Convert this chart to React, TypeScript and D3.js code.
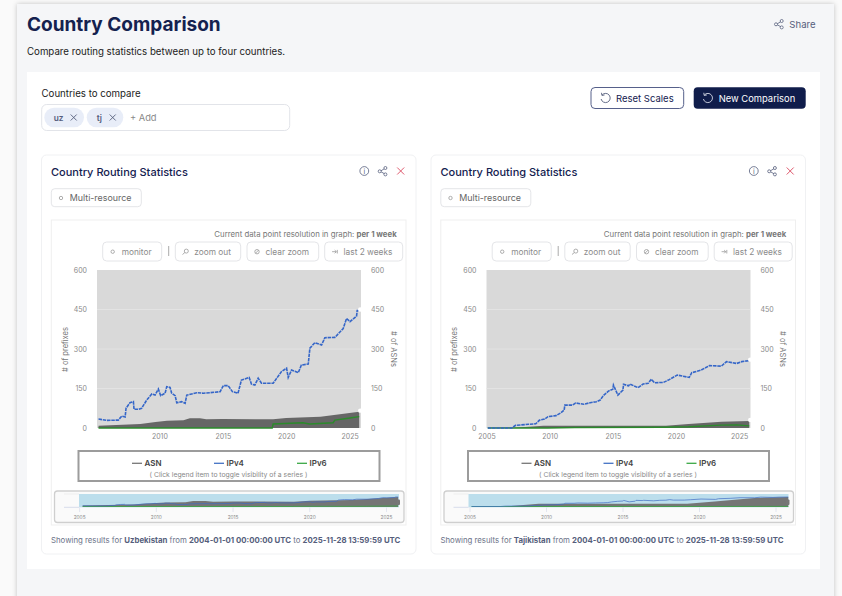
import React, { useEffect, useRef } from 'react';
import * as d3 from 'd3';

const FONT = 'Inter, "Noto Sans", sans-serif';
const NAVY = '#14214f';
const SLATE = '#555e7c';
const TICK = '#8a8a8a';

const yTicks = [0, 150, 300, 450, 600];
const xTicks = [2005, 2010, 2015, 2020, 2025];

// uzbekistan, years as decimals
const uzV4Years = [2005.2, 2005.84, 2006.76, 2007.03, 2007.3, 2007.37, 2007.68, 2007.95, 2008, 2008.34, 2008.6, 2009, 2009.4, 2009.66, 2009.92, 2010.1, 2010.45, 2010.58, 2010.84, 2010.97, 2011.24, 2011.37, 2011.76, 2012.03, 2012.16, 2012.95, 2013.47, 2014, 2014.79, 2015.05, 2015.42, 2015.76, 2016.2, 2016.47, 2017.08, 2017.26, 2017.53, 2017.79, 2018.05, 2018.97, 2019.63, 2020.03, 2020.16, 2020.42, 2020.95, 2021.2, 2021.74, 2021.87, 2022.26, 2022.79, 2023.05, 2023.84, 2024.5, 2024.76, 2025.03, 2025.55, 2025.6, 2025.76];
const uzV4 = [34, 29, 30, 45, 42, 75, 96, 100, 71, 71, 75, 106, 129, 125, 148, 123, 132, 157, 154, 132, 123, 96, 100, 94, 125, 134, 132, 134, 138, 161, 161, 138, 132, 182, 192, 167, 163, 189, 170, 170, 214, 227, 192, 220, 210, 239, 243, 303, 324, 315, 343, 344, 378, 416, 404, 425, 446, 446];
const uzAsnYears = [2005.2, 2008.5, 2009.7, 2010.6, 2011.9, 2012.4, 2013.2, 2013.7, 2015, 2018.97, 2020, 2022.7, 2025.76];
const uzAsn = [9, 15, 23, 28, 29, 37, 37, 33, 34, 33, 38, 43, 62];
const uzV6Years = [2005.2, 2018.9, 2018.97, 2021.3, 2021.85, 2023.7, 2023.84, 2025.03, 2025.76];
const uzV6 = [0, 0, 15, 20, 15, 20, 30, 38, 43];

// tajikistan
const tjV4Years = [2005.1, 2007, 2007.3, 2008.3, 2008.9, 2009.2, 2009.6, 2009.87, 2010.5, 2010.9, 2011.15, 2011.2, 2011.8, 2012.05, 2012.7, 2013.2, 2013.7, 2014, 2014.25, 2014.65, 2015, 2015.05, 2015.4, 2015.8, 2015.85, 2016.25, 2016.35, 2017, 2017.4, 2017.8, 2018.05, 2018.3, 2019, 2019.4, 2020.1, 2021.05, 2021.25, 2022, 2022.65, 2023.6, 2024, 2024.8, 2025.2, 2025.8];
const tjV4 = [0, 0, 10, 14, 16, 30, 34, 43, 47, 58, 68, 87, 87, 95, 90, 96, 100, 106, 123, 140, 147, 163, 125, 144, 166, 160, 167, 153, 167, 170, 185, 172, 173, 182, 201, 192, 210, 220, 237, 235, 252, 245, 252, 256];
const tjAsnYears = [2005.1, 2007.2, 2009.5, 2015, 2019.2, 2021, 2023.6, 2025.8];
const tjAsn = [0, 1, 9, 9, 9, 15, 24, 27];
const tjV6Years = [2005.1, 2009.8, 2012, 2019, 2021, 2023.6, 2024.8, 2025.8];
const tjV6 = [0, 0, 2, 3, 5, 11, 12, 8];

type Row = { t: number; v: number };
const rows = (ts: number[], vs: number[]): Row[] => ts.map((t, i) => ({ t, v: vs[i] }));

const Share = ({ x, y, c = SLATE }: { x: number; y: number; c?: string }) => (
  <g transform={`translate(${x},${y})`} fill="#fff" stroke={c} strokeWidth={0.8}>
    <path d="M-2.5 0.3L2.2 -2.6M-2.5 0.3L2.2 3" fill="none" />
    <circle cx={-3} cy={0.3} r={1.5} />
    <circle cx={2.7} cy={-3} r={1.5} />
    <circle cx={2.7} cy={3.4} r={1.5} />
  </g>
);

const Cross = ({ x, y, r = 3.5, c = SLATE }: { x: number; y: number; r?: number; c?: string }) => (
  <path d={`M${x - r} ${y - r}L${x + r} ${y + r}M${x + r} ${y - r}L${x - r} ${y + r}`} stroke={c} strokeWidth={0.9} fill="none" />
);

const Undo = ({ x, y, c }: { x: number; y: number; c: string }) => (
  <g transform={`translate(${x},${y})`} fill="none" stroke={c} strokeWidth={0.9}>
    <path d="M-3.6 -3A4.6 4.6 0 1 1 -4.6 1" />
    <path d="M-4.2 -5.2L-3.8 -2.6L-1.2 -3" />
  </g>
);

// small button glyphs above the plot
const glyphs: Record<string, string> = {
  monitor: 'M-1.7 0a1.7 1.7 0 1 0 3.4 0a1.7 1.7 0 1 0 -3.4 0',
  zoom: 'M-1 -0.6a2 2 0 1 0 4 0a2 2 0 1 0 -4 0M-0.4 0.8L-2.8 2.8',
  clear: 'M-2.2 0a2.2 2.2 0 1 0 4.4 0a2.2 2.2 0 1 0 -4.4 0M-1.5 1.5L1.5 -1.5',
  last: 'M-2.6 0H1.6M0 -1.6L1.6 0L0 1.6M2.6 -1.8V1.8',
};

const Pill = ({ x, x2, label, tx, glyph }: { x: number; x2: number; label: string; tx: number; glyph: string }) => (
  <g>
    <rect x={x} y={242} width={x2 - x} height={19} rx={4} fill="#fff" stroke="#e4e5e8" />
    <path d={glyphs[glyph]} transform={`translate(${x + 10},251.7)`} fill="none" stroke="#999" strokeWidth={0.8} />
    <text x={tx} y={254.8} fontSize={8.3} fill="#8b8b8b">{label}</text>
  </g>
);

function Axes({ x, y, left, right, bottom }: any) {
  const bottomRef = useRef<SVGGElement>(null);
  const leftRef = useRef<SVGGElement>(null);
  const rightRef = useRef<SVGGElement>(null);
  useEffect(() => {
    const style = (g: any) => {
      g.select('.domain').remove();
      g.selectAll('line').remove();
      g.selectAll('text').attr('fill', TICK).attr('font-size', 7).attr('font-family', FONT);
    };
    d3.select(bottomRef.current!)
      .call(d3.axisBottom(x).tickValues(xTicks.filter(t => x(t) >= x.range()[0])).tickFormat(d3.format('d')).tickSize(0).tickPadding(6) as any)
      .call(style);
    d3.select(leftRef.current!)
      .call(d3.axisLeft(y).tickValues(yTicks).tickSize(0).tickPadding(10) as any)
      .call(style);
    d3.select(rightRef.current!)
      .call(d3.axisRight(y).tickValues(yTicks).tickSize(0).tickPadding(10) as any)
      .call(style);
  }, []);
  return (
    <g>
      <g ref={bottomRef} transform={`translate(0,${bottom})`} />
      <g ref={leftRef} transform={`translate(${left},0)`} />
      <g ref={rightRef} transform={`translate(${right},0)`} />
    </g>
  );
}

function Chart({ dx, country, end, v4, asn, v6, navStart, plotStart }: any) {
  const left = 97;
  const right = 361;
  const top = 270;
  const bottom = 428;
  const x = d3.scaleLinear().domain([plotStart, 2025.9]).range([left, right]);
  const y = d3.scaleLinear().domain([0, 600]).range([bottom, top]);
  const line = d3.line<Row>().x(d => x(d.t)).y(d => y(d.v));
  const area = d3.area<Row>().x(d => x(d.t)).y0(y(0)).y1(d => y(d.v));

  // overview strip below the legend, each series scaled on its own
  const nx = d3.scaleLinear().domain([navStart, 2025.75]).range([79, 398]);
  const navV4 = d3.scaleLinear().domain([0, d3.max(v4, (d: Row) => d.v) as number]).range([506.5, 497]);
  const navAsn = d3.scaleLinear().domain([0, d3.max(asn, (d: Row) => d.v) as number]).range([507, 497]);
  const navV6 = d3.scaleLinear().domain([0, 600]).range([506.5, 500]);
  const navLine = d3.line<Row>().x(d => nx(d.t));
  const navArea = d3.area<Row>().x(d => nx(d.t)).y0(507).y1(d => navAsn(d.v));
  const legend = [
    { label: 'ASN', c: '#777', x: 132 },
    { label: 'IPv4', c: '#4472c4', x: 214 },
    { label: 'IPv6', c: '#3aa845', x: 297 },
  ];

  return (
    <g transform={`translate(${dx},0)`}>
      <rect x={41.5} y={155} width={374.5} height={399} rx={5} fill="#fff" stroke="#f0f1f3" />
      <text x={51} y={175.5} fontSize={11} fontWeight={500} fill={NAVY}>Country Routing Statistics</text>
      <circle cx={364.3} cy={171} r={4.4} fill="none" stroke={SLATE} strokeWidth={0.8} />
      <text x={364.3} y={173.8} fontSize={7} fill={SLATE} textAnchor="middle">i</text>
      <Share x={382.7} y={171} />
      <Cross x={400.7} y={171} c="#d9485f" />

      <rect x={51.3} y={188.7} width={90} height={18} rx={3.5} fill="#fff" stroke="#e4e5e8" />
      <circle cx={61} cy={198} r={1.7} fill="none" stroke="#999" strokeWidth={0.8} />
      <text x={69.7} y={201.3} fontSize={8.9} fill="#666">Multi-resource</text>

      <rect x={51.3} y={220} width={354.7} height={305} fill="#fff" stroke="#efefef" />
      <text x={396.7} y={236.7} fontSize={7.8} fill="#777" textAnchor="end">
        Current data point resolution in graph: <tspan fontWeight={700}>per 1 week</tspan>
      </text>
      <Pill x={102.7} x2={161.7} tx={121.7} label="monitor" glyph="monitor" />
      <line x1={168.7} x2={168.7} y1={246} y2={256} stroke="#aaa" />
      <Pill x={175.3} x2={240.7} tx={194.3} label="zoom out" glyph="zoom" />
      <Pill x={247} x2={318.7} tx={265.6} label="clear zoom" glyph="clear" />
      <Pill x={324.7} x2={402.7} tx={343.6} label="last 2 weeks" glyph="last" />

      <rect x={left} y={top} width={right - left} height={bottom - top} fill="#d9d9d9" />
      {yTicks.slice(1, 4).map(t => (
        <line key={t} x1={left} x2={right} y1={y(t)} y2={y(t)} stroke="#e6e6e6" strokeWidth={0.7} />
      ))}
      <path d={area(asn) as string} fill="#666" />
      <path d={line(v6) as string} fill="none" stroke="#2b8a2b" strokeWidth={1.4} />
      <path d={line(v4) as string} fill="none" stroke="#3566c8" strokeWidth={1.6} strokeDasharray="3.5 0.8" />
      {[v4, asn].map((s: Row[], i) => (
        <circle key={i} cx={x(s[s.length - 1].t) + 1} cy={y(s[s.length - 1].v) - 1} r={2.2} fill="#fff" />
      ))}
      <Axes x={x} y={y} left={left} right={right} bottom={bottom} />
      <text transform="translate(67.5,349.5) rotate(-90)" fontSize={7.5} fill="#777" textAnchor="middle">
        # of prefixes
      </text>
      <text transform="translate(390.5,349) rotate(90)" fontSize={7.5} fill="#777" textAnchor="middle">
        # of ASNs
      </text>

      <rect x={78.5} y={451} width={301} height={30} fill="#fff" stroke="#9c9c9c" strokeWidth={2} />
      {legend.map(d => (
        <g key={d.label}>
          <line x1={d.x} x2={d.x + 10} y1={463.3} y2={463.3} stroke={d.c} strokeWidth={1.3} />
          <text x={d.x + 12.5} y={466} fontSize={8} fontWeight={600} fill="#444">{d.label}</text>
        </g>
      ))}
      <text x={228.5} y={477} fontSize={6.8} fill="#888" textAnchor="middle">
        ( Click legend item to toggle visibility of a series )
      </text>

      <rect x={54.5} y={491} width={349.5} height={31.5} rx={3} fill="#fafafa" stroke="#cfcfcf" strokeWidth={1.3} />
      <line x1={64} x2={79} y1={507.3} y2={507.3} stroke="#d8dceb" />
      <line x1={64} x2={79} y1={494} y2={494} stroke="#eee" />
      <rect x={nx.range()[0]} y={494} width={320} height={13.3} fill="#bcdeec" />
      <path d={navArea(asn) as string} fill="#757575" />
      <path d={navLine.y(d => navV6(d.v))(v6) as string} fill="none" stroke="#3aa845" strokeWidth={0.8} />
      <path d={navLine.y(d => navV4(d.v))(v4) as string} fill="none" stroke="#3f6cc4" strokeWidth={0.7} />
      <rect x={396.5} y={499.5} width={3.5} height={5.5} rx={1} fill="#777" />
      {xTicks.map(t => (
        <g key={t}>
          <line x1={nx(t)} x2={nx(t)} y1={507.5} y2={512} stroke="#d8dceb" strokeWidth={0.7} />
          <text x={nx(t)} y={518.5} fontSize={4.8} fill="#888" textAnchor="middle">{t}</text>
        </g>
      ))}

      <text x={51} y={543} fontSize={7.8} fill="#6c7389">
        Showing results for <tspan fontWeight={700} fill={SLATE}>{country}</tspan> from{' '}
        <tspan fontWeight={700} fill={SLATE}>2004-01-01 00:00:00 UTC</tspan> to{' '}
        <tspan fontWeight={700} fill={SLATE}>{end}</tspan>
      </text>
    </g>
  );
}

export default function App() {
  return (
    <svg
      width={842}
      height={596}
      fontFamily={FONT}
      style={{ position: 'fixed', left: 0, top: 0, display: 'block', background: '#fafafa' }}
    >
      <defs>
        <filter id="page" x="-5%" y="-5%" width="110%" height="110%">
          <feDropShadow dx={0} dy={0} stdDeviation={2.5} floodColor="#000" floodOpacity={0.22} />
        </filter>
      </defs>
      <rect x={17} y={4} width={817} height={620} fill="#f5f6f8" filter="url(#page)" />
      <text x={27} y={31} fontSize={19} fontWeight={700} fill={NAVY}>Country Comparison</text>
      <text x={27} y={55} fontSize={9.7} fill="#222">Compare routing statistics between up to four countries.</text>
      <Share x={779} y={24} />
      <text x={789.3} y={27.7} fontSize={9.6} fill={SLATE}>Share</text>

      <rect x={27} y={72} width={793} height={497} fill="#fff" />
      <text x={41.5} y={97} fontSize={9.7} fill="#222">Countries to compare</text>
      <rect x={41.7} y={104.5} width={248} height={26} rx={5} fill="#fff" stroke="#e2e4e9" />
      <rect x={44.3} y={107.7} width={39.7} height={19.6} rx={9.8} fill="#e8edf8" />
      <text x={53.7} y={120.7} fontSize={8.3} fontWeight={600} fill={SLATE}>uz</text>
      <Cross x={73.7} y={117.5} r={3} />
      <rect x={86.7} y={107.7} width={36.6} height={19.6} rx={9.8} fill="#e8edf8" />
      <text x={96.7} y={120.7} fontSize={8.3} fontWeight={600} fill={SLATE}>tj</text>
      <Cross x={112.7} y={117.5} r={3} />
      <text x={130} y={121} fontSize={9.3} fill="#888">+ Add</text>

      <rect x={591} y={87.5} width={92.7} height={21} rx={4} fill="#fff" stroke="#56608a" />
      <Undo x={605.7} y={98} c={SLATE} />
      <text x={616} y={102} fontSize={9.5} fill={NAVY}>Reset Scales</text>
      <rect x={693.7} y={87.3} width={112} height={21.4} rx={4} fill="#101d4b" />
      <Undo x={708} y={98} c="#d5d9e6" />
      <text x={718.7} y={102} fontSize={9.4} fill="#fff">New Comparison</text>

      <Chart
        dx={0}
        plotStart={2005.08}
        navStart={2004.96}
        country="Uzbekistan"
        end="2025-11-28 13:59:59 UTC"
        v4={rows(uzV4Years, uzV4)}
        asn={rows(uzAsnYears, uzAsn)}
        v6={rows(uzV6Years, uzV6)}
      />
      <Chart
        dx={389.5}
        plotStart={2005}
        navStart={2004.9}
        country="Tajikistan"
        end="2025-11-28 13:59:59 UTC"
        v4={rows(tjV4Years, tjV4)}
        asn={rows(tjAsnYears, tjAsn)}
        v6={rows(tjV6Years, tjV6)}
      />
    </svg>
  );
}
